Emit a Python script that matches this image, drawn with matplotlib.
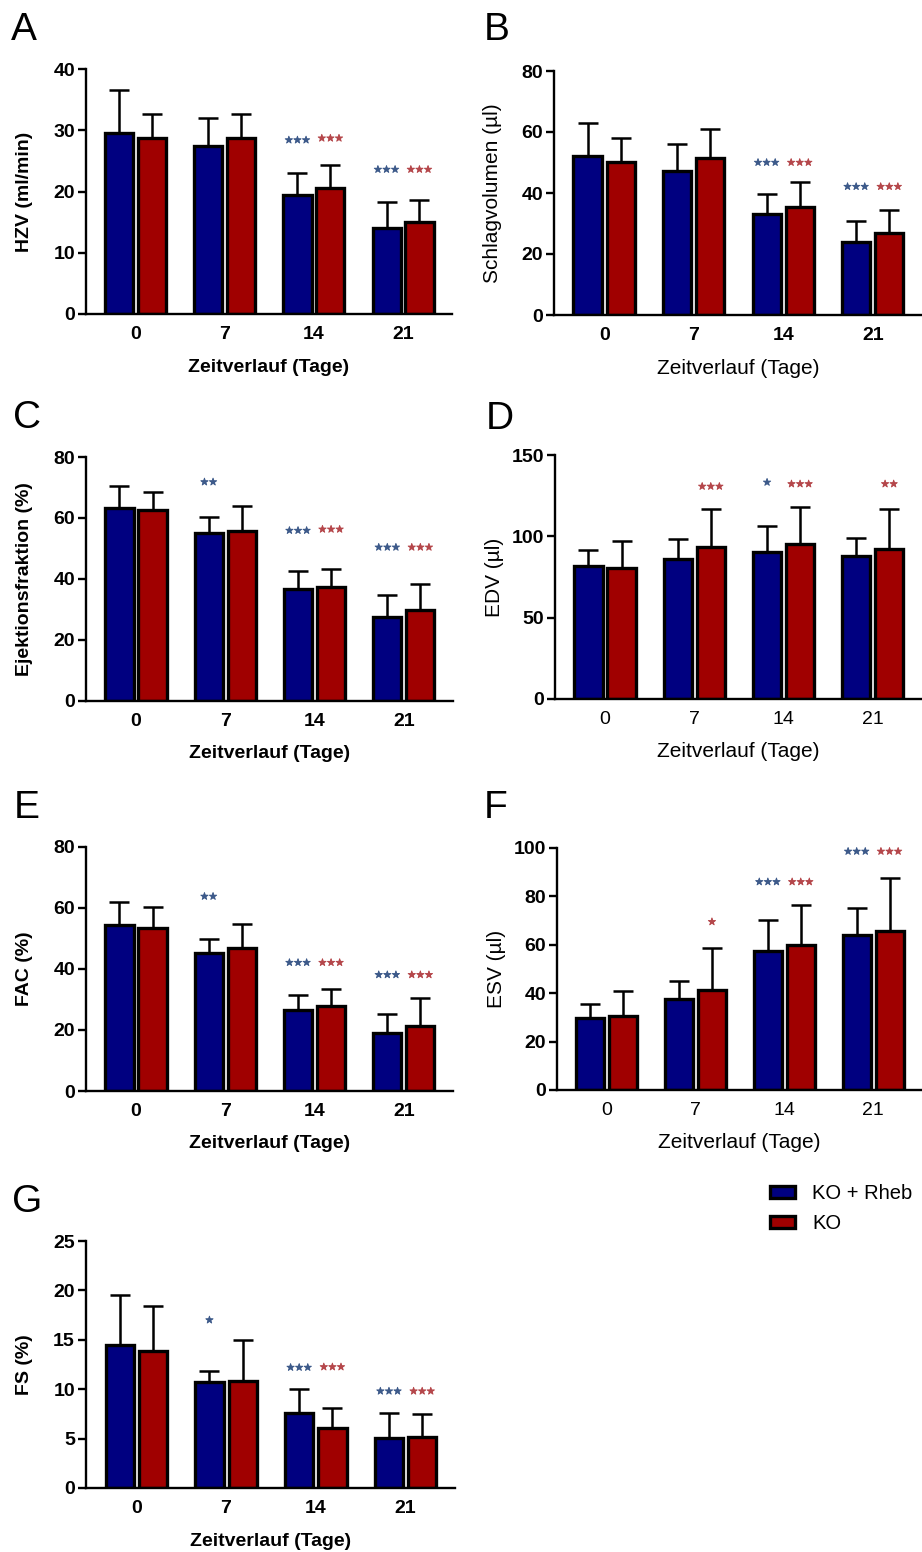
import matplotlib
matplotlib.use("Agg")
import matplotlib.pyplot as plt
import matplotlib.patheffects as pe
import numpy as np

plt.rcParams['font.family'] = ['Liberation Sans', 'DejaVu Sans']

# ---------------- data ----------------
days = ['0', '7', '14', '21']
series_names = ['KO + Rheb', 'KO']

A_blue = [29.6, 27.5, 19.5, 14.1]; A_blue_sd = [6.9, 4.5, 3.5, 4.2]
A_red = [28.8, 28.7, 20.6, 15.1];  A_red_sd = [3.8, 4.0, 3.8, 3.5]
B_blue = [52.1, 47.3, 33.0, 23.8]; B_blue_sd = [10.7, 8.7, 6.6, 7.0]
B_red = [50.3, 51.6, 35.5, 26.8];  B_red_sd = [7.6, 9.3, 8.0, 7.5]
C_blue = [63.2, 55.0, 36.7, 27.5]; C_blue_sd = [7.3, 5.3, 5.9, 7.3]
C_red = [62.7, 55.9, 37.5, 29.7];  C_red_sd = [5.8, 8.0, 5.8, 8.5]
D_blue = [81.8, 85.9, 90.4, 87.7]; D_blue_sd = [9.8, 12.3, 16.2, 11.1]
D_red = [80.7, 93.4, 95.3, 92.2];  D_red_sd = [16.6, 23.6, 22.7, 24.8]
E_blue = [54.3, 45.2, 26.4, 18.9]; E_blue_sd = [7.6, 4.7, 5.2, 6.2]
E_red = [53.4, 47.0, 28.0, 21.3];  E_red_sd = [7.0, 7.7, 5.4, 9.1]
F_blue = [29.6, 37.8, 57.5, 64.0]; F_blue_sd = [5.9, 7.3, 12.9, 11.4]
F_red = [30.5, 41.5, 60.0, 65.5];  F_red_sd = [10.5, 17.0, 16.5, 22.1]
G_blue = [14.5, 10.7, 7.6, 5.1];   G_blue_sd = [5.0, 1.1, 2.45, 2.5]
G_red = [13.9, 10.8, 6.1, 5.2];    G_red_sd = [4.5, 4.2, 2.0, 2.3]

# significance marks: (group index, series 0=blue 1=red, label, y)
A_stars = [(2, 0, '***', 28.4), (2, 1, '***', 28.7), (3, 0, '***', 23.6), (3, 1, '***', 23.6)]
B_stars = [(2, 0, '***', 50.0), (2, 1, '***', 50.0), (3, 0, '***', 42.1), (3, 1, '***', 42.1)]
C_stars = [(1, 0, '**', 71.8), (2, 0, '***', 55.9), (2, 1, '***', 56.3), (3, 0, '***', 50.4), (3, 1, '***', 50.4)]
D_stars = [(1, 1, '***', 130.7), (2, 0, '*', 133.2), (2, 1, '***', 132.2), (3, 1, '**', 132.2)]
E_stars = [(1, 0, '**', 63.8), (2, 0, '***', 42.1), (2, 1, '***', 42.1), (3, 0, '***', 38.1), (3, 1, '***', 38.1)]
F_stars = [(1, 1, '*', 69.5), (2, 0, '***', 86.0), (2, 1, '***', 86.0), (3, 0, '***', 98.6), (3, 1, '***', 98.6)]
G_stars = [(1, 0, '*', 17.0), (2, 0, '***', 12.2), (2, 1, '***', 12.25), (3, 0, '***', 9.8), (3, 1, '***', 9.8)]

# ---------------- style ----------------
W, H = 922, 1552
BLUE = '#000080'
RED = '#a00000'
STAR_BLUE = '#3d5a8a'
STAR_RED = '#b5474b'
FS = 14

fig = plt.figure(figsize=(W / 100, H / 100), dpi=100)


def rect(l, t, r, b):
    return [l / W, 1 - b / H, (r - l) / W, (b - t) / H]


def panel(letter, box, letter_xy, blue, blue_sd, red, red_sd, stars, ymax, ystep,
          ylabel, label_bold=True, xtick_bold=True):
    ax = fig.add_axes(rect(*box))
    x = np.arange(len(days))
    bw = 0.315
    off = 0.185
    ax.bar(x - off, blue, width=bw, color=BLUE, edgecolor='black', linewidth=2.4, zorder=2,
           label=series_names[0])
    ax.bar(x + off, red, width=bw, color=RED, edgecolor='black', linewidth=2.4, zorder=2,
           label=series_names[1])
    ax.errorbar(x - off, blue, yerr=[np.zeros(len(blue)), blue_sd], fmt='none', ecolor='black',
                elinewidth=1.8, capsize=7, capthick=1.8, zorder=1)
    ax.errorbar(x + off, red, yerr=[np.zeros(len(red)), red_sd], fmt='none', ecolor='black',
                elinewidth=1.8, capsize=7, capthick=1.8, zorder=1)
    for g, s, lab, yy in stars:
        xx = g - off if s == 0 else g + off
        col = STAR_BLUE if s == 0 else STAR_RED
        ax.text(xx, yy, lab.replace('*', '\u2605'), color=col,
                ha='center', va='center', fontsize=6.9, family='DejaVu Sans',
                path_effects=[pe.withStroke(linewidth=0.6, foreground=col)])
    ax.set_xlim(-0.56, 3.55)
    ax.set_ylim(0, ymax)
    ax.set_yticks(np.arange(0, ymax + 0.001, ystep))
    ax.set_xticks(x, days)
    for sp in ['top', 'right']:
        ax.spines[sp].set_visible(False)
    for sp in ['left', 'bottom']:
        ax.spines[sp].set_linewidth(1.7)
    ax.tick_params(axis='x', length=0, pad=8.5, labelsize=FS)
    ax.tick_params(axis='y', length=6, width=1.7, pad=2, labelsize=FS)
    for t in ax.get_yticklabels():
        t.set_fontweight('bold')
    for t in ax.get_xticklabels():
        t.set_fontweight('bold' if xtick_bold else 'normal')
    wpx = box[2] - box[0]
    hpx = box[3] - box[1]
    lw = 'bold' if label_bold else 'normal'
    lfs = FS if label_bold else 15
    ax.set_ylabel(ylabel, fontsize=lfs, fontweight=lw, va='center')
    ax.yaxis.set_label_coords(-61 / wpx, 0.5)
    ax.set_xlabel('Zeitverlauf (Tage)', fontsize=lfs, fontweight=lw, va='center')
    ax.xaxis.set_label_coords(0.5, -53 / hpx)
    fig.text(letter_xy[0] / W, 1 - letter_xy[1] / H, letter, fontsize=28, va='baseline', ha='left')
    return ax


panel('A', (86, 69, 452, 314), (11, 40), A_blue, A_blue_sd, A_red, A_red_sd, A_stars, 40, 10,
      'HZV (ml/min)')
panel('B', (554, 71, 922, 315), (484, 40), B_blue, B_blue_sd, B_red, B_red_sd, B_stars, 80, 20,
      'Schlagvolumen (µl)', label_bold=False)
panel('C', (86, 457, 453, 701), (13, 428), C_blue, C_blue_sd, C_red, C_red_sd, C_stars, 80, 20,
      'Ejektionsfraktion (%)')
panel('D', (555, 455, 922, 699), (486, 429), D_blue, D_blue_sd, D_red, D_red_sd, D_stars, 150, 50,
      'EDV (µl)', label_bold=False, xtick_bold=False)
panel('E', (86, 847, 453, 1091), (14, 818), E_blue, E_blue_sd, E_red, E_red_sd, E_stars, 80, 20,
      'FAC (%)')
panel('F', (557, 848, 922, 1090), (484, 818), F_blue, F_blue_sd, F_red, F_red_sd, F_stars, 100, 20,
      'ESV (µl)', label_bold=False, xtick_bold=False)
axG = panel('G', (86, 1241, 455, 1488), (12, 1212), G_blue, G_blue_sd, G_red, G_red_sd, G_stars, 25, 5,
            'FS (%)')

handles, labels = axG.get_legend_handles_labels()
fig.legend(handles, labels, loc='upper left', bbox_to_anchor=(770 / W, 1 - 1184 / H),
           frameon=False, fontsize=14.5, handlelength=1.25, handleheight=0.5,
           handletextpad=0.85, labelspacing=0.55, borderpad=0, borderaxespad=0)

fig.savefig('out.png', dpi=100)
